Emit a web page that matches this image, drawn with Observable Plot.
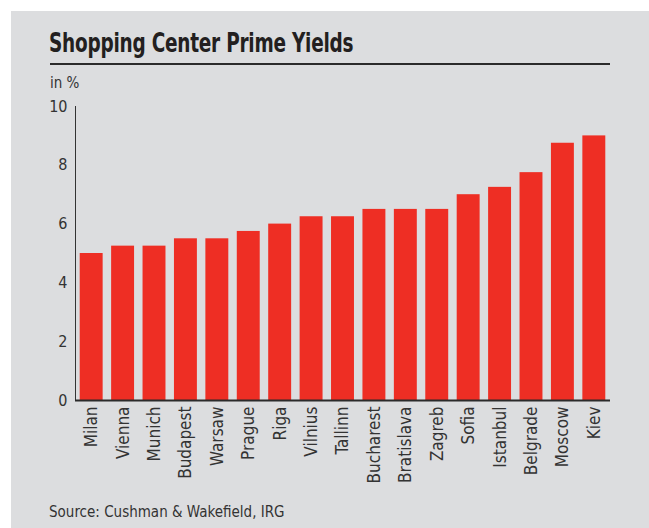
<!DOCTYPE html>
<html>
<head>
<meta charset="utf-8">
<script src="https://cdn.jsdelivr.net/npm/d3@7"></script>
<script src="https://cdn.jsdelivr.net/npm/@observablehq/plot@0.6"></script>
<style>
  html, body { margin: 0; padding: 0; background: #ffffff; }
  body { width: 649px; height: 528px; position: relative; overflow: hidden;
         font-family: "DejaVu Sans Condensed", "Liberation Sans", sans-serif; }
  #panel { position: absolute; left: 11px; top: 11px; width: 638px; height: 517px; background: #dcdddf; }
  #title { position: absolute; left: 49px; top: 28px; font-size: 26px; font-weight: bold; color: #231f20; white-space: nowrap; letter-spacing: -0.3px; transform: scaleX(0.79); transform-origin: 0 0; }
  #rule { position: absolute; left: 50px; top: 63px; width: 560px; height: 2px; background: #2b2b2b; }
  #unit { position: absolute; left: 50px; top: 74px; font-size: 15px; color: #333; }
  #chart { position: absolute; left: 0; top: 0; }
  #source { position: absolute; left: 49px; top: 503px; font-size: 15px; color: #333; white-space: nowrap; }
</style>
</head>
<body>
<div id="panel"></div>
<div id="title">Shopping Center Prime Yields</div>
<div id="rule"></div>
<div id="unit">in %</div>
<div id="chart"></div>
<div id="source">Source: Cushman &amp; Wakefield, IRG</div>
<script>
const cities = ["Milan", "Vienna", "Munich", "Budapest", "Warsaw", "Prague", "Riga", "Vilnius", "Tallinn", "Bucharest", "Bratislava", "Zagreb", "Sofia", "Istanbul", "Belgrade", "Moscow", "Kiev"];
const yields = [5.0, 5.25, 5.25, 5.5, 5.5, 5.75, 6.0, 6.25, 6.25, 6.5, 6.5, 6.5, 7.0, 7.25, 7.75, 8.75, 9.0];
const yTicks = [0, 2, 4, 6, 8, 10];

const data = cities.map((c, i) => ({city: c, value: yields[i]}));

const chart = Plot.plot({
  width: 649,
  height: 500,
  marginLeft: 75,
  marginRight: 39,
  marginTop: 106,
  marginBottom: 100,
  style: {background: "transparent", fontFamily: "'DejaVu Sans Condensed', sans-serif", fontSize: "16px", color: "#333"},
  x: {domain: cities, round: false, paddingInner: 0.27, paddingOuter: 0.15, label: null, tickSize: 0, tickRotate: -90, tickPadding: 6},
  y: {domain: [0, 10], ticks: yTicks, label: null, tickSize: 0, tickPadding: 8, line: true},
  marks: [
    Plot.barY(data, {x: "city", y: "value", fill: "#ee2e24"}),
    Plot.ruleY([0], {stroke: "#2b2b2b", strokeWidth: 2})
  ]
});
chart.querySelectorAll("g[aria-label='x-axis tick label'] text").forEach(t => t.style.fontSize = "17px");
document.getElementById("chart").appendChild(chart);
</script>
</body>
</html>
